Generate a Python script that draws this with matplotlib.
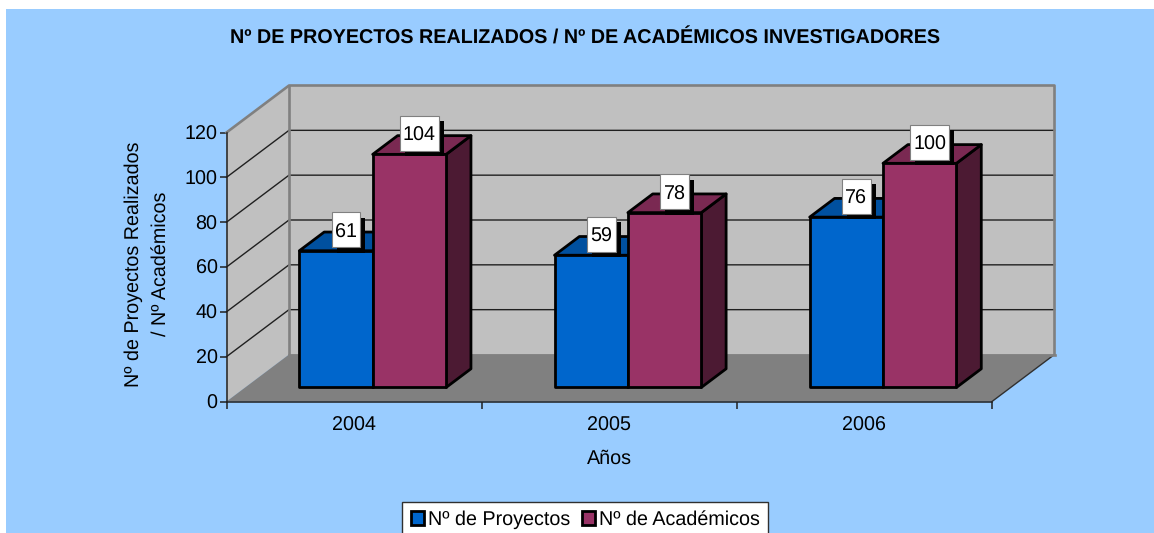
import matplotlib
matplotlib.use('Agg')
import matplotlib.pyplot as plt
from matplotlib.patches import Polygon, Rectangle, Patch
from matplotlib.lines import Line2D

plt.rcParams['font.family'] = ['Liberation Sans', 'DejaVu Sans']
plt.rcParams['text.hinting'] = 'no_hinting'

years = ['2004', '2005', '2006']
proyectos = [61, 59, 76]
academicos = [104, 78, 100]
yticks = [0, 20, 40, 60, 80, 100, 120]

W, H = 1154, 533
FS = 14.2
fig = plt.figure(figsize=(W/100, H/100), dpi=100, facecolor='white')
fig.patches.append(Rectangle((6/W, 0), 1-6/W, 1-9/H, transform=fig.transFigure, fc='#99CCFF', ec='none', zorder=-5))

# front plane of the fake 3d box, in pixels
left, right, top, bottom = 226.5, 992, 132.5, 401.5
ax = fig.add_axes([left/W, 1-bottom/H, (right-left)/W, (bottom-top)/H])
ax.set_xlim(0, 3)
ax.set_ylim(0, 120)
ax.patch.set_visible(False)
for s in ['top', 'right']:
    ax.spines[s].set_visible(False)
for s in ['left', 'bottom']:
    ax.spines[s].set_linewidth(1.1)
    ax.spines[s].set_color('#202020')
    ax.spines[s].set_zorder(20)

DX, DY = 62.5, 47

def pt(x, v, d):
    px, py = ax.transData.transform((x, v))
    return (px + d*DX, py + d*DY)

def poly(pts, **kw):
    ax.add_patch(Polygon(pts, closed=True, transform=None, clip_on=False, **kw))

def line(pts, **kw):
    ax.add_line(Line2D([p[0] for p in pts], [p[1] for p in pts], transform=None, clip_on=False, **kw))

# walls and floor
poly([pt(0, 0, 1), pt(3, 0, 1), pt(3, 120, 1), pt(0, 120, 1)], fc='#C0C0C0', ec='none', zorder=1)
poly([pt(0, 0, 0), pt(0, 0, 1), pt(0, 120, 1), pt(0, 120, 0)], fc='#C0C0C0', ec='none', zorder=1)
poly([pt(0, 0, 0), pt(3, 0, 0), pt(3, 0, 1), pt(0, 0, 1)], fc='#808080', ec='none', zorder=2)
line([pt(3, 0, 0), pt(3, 0, 1)], color='#303030', lw=1.0, zorder=3)
for v in yticks[1:-1]:
    line([pt(0, v, 0), pt(0, v, 1), pt(3, v, 1)], color='#202020', lw=1.0, zorder=2)
line([pt(0, 0, 1), pt(3, 0, 1)], color='#808080', lw=1.9, zorder=3)
line([pt(0, 120, 0), pt(0, 120, 1), pt(3, 120, 1), pt(3, 0, 1)], color='#808080', lw=1.9, zorder=3)
line([pt(0, 0, 1), pt(0, 120, 1)], color='#808080', lw=1.9, zorder=3)

d0, d1 = 0.298, 0.696
bar_w = 0.2875

def bar3d(x, v, front, tp, side):
    z = 5 + x
    poly([pt(x+bar_w, 0, d0), pt(x+bar_w, 0, d1), pt(x+bar_w, v, d1), pt(x+bar_w, v, d0)],
         fc=side, ec='black', lw=2.0, joinstyle='round', zorder=z)
    poly([pt(x, v, d0), pt(x+bar_w, v, d0), pt(x+bar_w, v, d1), pt(x, v, d1)],
         fc=tp, ec='black', lw=2.0, joinstyle='round', zorder=z)
    poly([pt(x, 0, d0), pt(x+bar_w, 0, d0), pt(x+bar_w, v, d0), pt(x, v, d0)],
         fc=front, ec='black', lw=2.0, joinstyle='round', zorder=z+0.1)

def value_label(x, v):
    cx, cy = pt(x + bar_w/2, v, d0)
    cx, cy = cx + 10, cy + 21
    bw = 7.3 + 10.7*len(str(v))
    bh = 35
    # black shadow box then white box
    ax.add_patch(Rectangle((cx-bw/2+5, cy-bh/2-5.5), bw, bh, transform=None, clip_on=False,
                           fc='black', ec='none', zorder=30))
    ax.add_patch(Rectangle((cx-bw/2, cy-bh/2), bw, bh, transform=None, clip_on=False,
                           fc='white', ec='#808080', lw=0.8, zorder=31))
    ax.annotate(str(v), xy=(cx, cy-0.5), xycoords='figure pixels', ha='center', va='center_baseline', fontsize=FS,
                color='black', zorder=32, annotation_clip=False)

for i in range(len(years)):
    x1 = i + 0.2125
    x2 = x1 + bar_w
    bar3d(x1, proyectos[i], '#0066CC', '#00509F', '#003366')
    bar3d(x2, academicos[i], '#993366', '#7A2952', '#4C1A33')
for i in range(len(years)):
    x1 = i + 0.2125
    value_label(x1, proyectos[i])
    value_label(x1 + bar_w, academicos[i])

ax.set_yticks(yticks)
ax.set_xticks([0, 1, 2, 3])
ax.set_xticklabels([])
ax.set_xticks([0.5, 1.5, 2.5], labels=years, minor=True)
ax.tick_params(axis='y', length=5, width=1.1, labelsize=FS, pad=1.5, color='#202020')
ax.tick_params(axis='x', which='major', length=5, width=1.1, color='#202020')
ax.tick_params(axis='x', which='minor', length=0, labelsize=FS, pad=11)

fig.text(585.5/W, 1-38.5/H, 'Nº DE PROYECTOS REALIZADOS / Nº DE ACADÉMICOS INVESTIGADORES',
         ha='center', va='center', fontsize=FS, fontweight='bold')
fig.text(609/W, 1-459/H, 'Años', ha='center', va='center', fontsize=FS)
fig.text(147/W, 1-264/H, 'Nº de Proyectos Realizados\n/ Nº Académicos', ha='center', va='center',
         rotation=90, fontsize=FS, linespacing=1.6, multialignment='center')

handles = [Patch(fc='#0066CC', ec='black', lw=2), Patch(fc='#993366', ec='black', lw=2)]
fig.legend(handles, ['Nº de Proyectos', 'Nº de Académicos'], ncol=2, fontsize=FS,
           loc='upper center', bbox_to_anchor=(585/W, 1-502/H), frameon=True, fancybox=False, framealpha=1,
           facecolor='white', edgecolor='#303030', handlelength=0.68, handleheight=0.68, handletextpad=0.18,
           columnspacing=0.6, borderpad=0.42, borderaxespad=0)

fig.savefig('out.png', dpi=100, facecolor='white')
